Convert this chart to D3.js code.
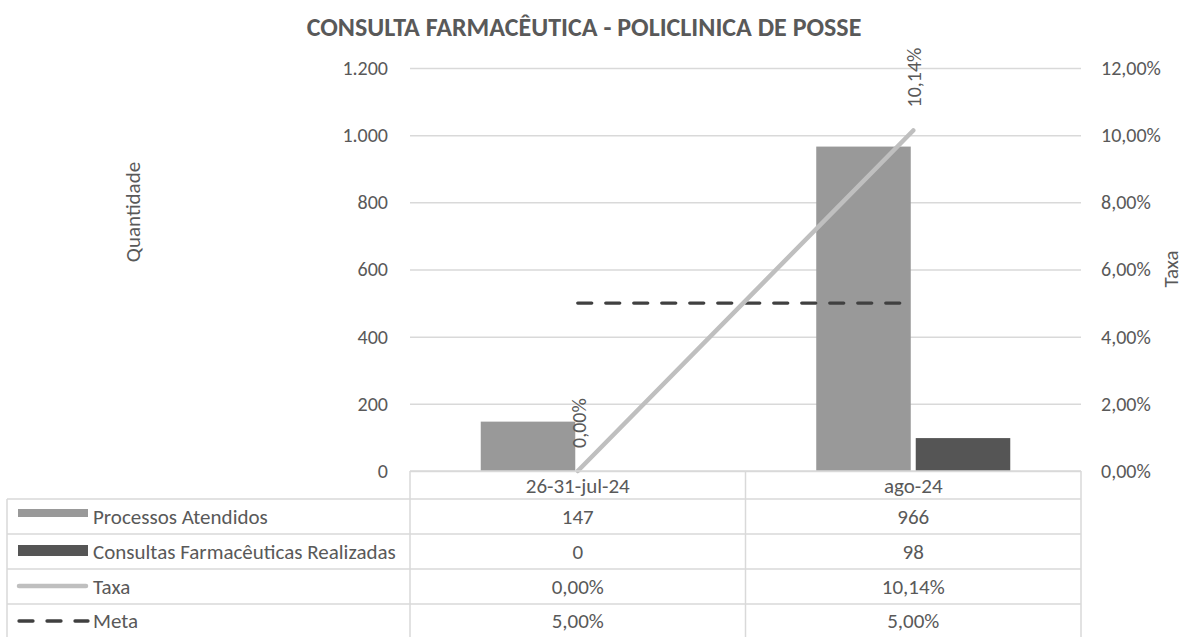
<!DOCTYPE html>
<html>
<head>
<meta charset="utf-8">
<script src="https://cdn.jsdelivr.net/npm/d3@7"></script>
<style>
  body { margin: 0; background: #fff; }
  text { font-family: Carlito, Lato, sans-serif; fill: #595959; }
</style>
</head>
<body>
<svg id="chart" width="1187" height="637"></svg>
<script>
// chart data
const categories = ["26-31-jul-24", "ago-24"];
const processos = [147, 966];
const consultas = [0, 98];
const taxa = [0, 10.14];
const meta = [5, 5];
const leftTicks = [0, 200, 400, 600, 800, 1000, 1200];
const rightTicks = [0, 2, 4, 6, 8, 10, 12];
const seriesNames = ["Processos Atendidos", "Consultas Farmacêuticas Realizadas", "Taxa", "Meta"];

const ptBR = d3.formatLocale({ decimal: ",", thousands: ".", grouping: [3], currency: ["R$", ""] });
const fmtInt = ptBR.format(",");
const fmtPct = (v) => ptBR.format(".2f")(v) + "%";

let svg = d3.select("#chart");

let plotLeft = 410, plotRight = 1081, plotTop = 68, plotBottom = 471;

let x = d3.scaleBand().domain(categories).range([plotLeft, plotRight]);
let xInner = d3.scaleBand().domain(["p", "c"]).range([0, x.bandwidth()])
  .paddingInner(0.05).paddingOuter(0.711);
let yLeft = d3.scaleLinear().domain([0, 1200]).range([plotBottom, plotTop]);
let yRight = d3.scaleLinear().domain([0, 12]).range([plotBottom, plotTop]);

// title
svg.append("text")
  .attr("x", 584).attr("y", 36)
  .attr("text-anchor", "middle")
  .style("font-weight", "bold").style("font-size", "26px")
  .text("CONSULTA FARMACÊUTICA - POLICLINICA DE POSSE");

// gridlines + left axis
let leftAxis = svg.append("g")
  .attr("transform", "translate(" + plotLeft + ",0)")
  .call(d3.axisLeft(yLeft).tickValues(leftTicks).tickFormat(fmtInt)
    .tickSize(-(plotRight - plotLeft)).tickPadding(22));
leftAxis.select(".domain").remove();
leftAxis.selectAll("line").attr("stroke", "#d9d9d9").attr("stroke-width", 1.5);
leftAxis.selectAll("text").style("font-size", "20px").attr("fill", "#595959");

let rightAxis = svg.append("g")
  .attr("transform", "translate(" + plotRight + ",0)")
  .call(d3.axisRight(yRight).tickValues(rightTicks).tickFormat(fmtPct)
    .tickSize(0).tickPadding(20));
rightAxis.select(".domain").remove();
rightAxis.selectAll("text").style("font-size", "20px").attr("fill", "#595959");

// axis titles
svg.append("text")
  .attr("transform", "translate(140,212) rotate(-90)")
  .attr("text-anchor", "middle").style("font-size", "21px")
  .text("Quantidade");
svg.append("text")
  .attr("transform", "translate(1178,269) rotate(-90)")
  .attr("text-anchor", "middle").style("font-size", "21px")
  .text("Taxa");

// bars
let groups = svg.append("g").selectAll("g")
  .data(categories)
  .enter()
  .append("g")
  .attr("transform", (c) => "translate(" + x(c) + ",0)");

groups.append("rect")
  .attr("x", xInner("p"))
  .attr("width", xInner.bandwidth())
  .attr("y", (c, i) => yLeft(processos[i]))
  .attr("height", (c, i) => plotBottom - yLeft(processos[i]))
  .attr("fill", "#999999");

groups.append("rect")
  .attr("x", xInner("c"))
  .attr("width", xInner.bandwidth())
  .attr("y", (c, i) => yLeft(consultas[i]))
  .attr("height", (c, i) => plotBottom - yLeft(consultas[i]))
  .attr("fill", "#555555");

let cx = (c) => x(c) + x.bandwidth() / 2;

// meta line
svg.append("path")
  .datum(categories)
  .attr("d", d3.line().x((c) => cx(c)).y((c, i) => yRight(meta[i])))
  .attr("fill", "none")
  .attr("stroke", "#404040")
  .attr("stroke-width", 3.3)
  .attr("stroke-linecap", "round")
  .attr("stroke-dasharray", "14,14");

// taxa line
svg.append("path")
  .datum(categories)
  .attr("d", d3.line().x((c) => cx(c)).y((c, i) => yRight(taxa[i])))
  .attr("fill", "none")
  .attr("stroke", "#bfbfbf")
  .attr("stroke-width", 4.5)
  .attr("stroke-linecap", "round");

// taxa labels
svg.append("g").selectAll("text")
  .data(categories)
  .enter()
  .append("text")
  .attr("transform", (c, i) => "translate(" + (cx(c) + 8) + "," + (yRight(taxa[i]) - 23) + ") rotate(-90)")
  .style("font-size", "20px")
  .attr("fill", "#404040")
  .text((c, i) => fmtPct(taxa[i]));

// data table
let rowEdges = [499, 534, 569, 604, 638];
let colEdges = [plotLeft, x("ago-24"), plotRight];
let tableLeft = 7;
let grid = svg.append("g").attr("stroke", "#d9d9d9").attr("stroke-width", 1.5);

grid.append("line").attr("x1", plotLeft).attr("x2", plotRight).attr("y1", plotBottom).attr("y2", plotBottom);
rowEdges.forEach((ry) => {
  grid.append("line").attr("x1", tableLeft).attr("x2", plotRight).attr("y1", ry).attr("y2", ry);
});
colEdges.forEach((cxp) => {
  grid.append("line").attr("x1", cxp).attr("x2", cxp).attr("y1", plotBottom).attr("y2", 638);
});
grid.append("line").attr("x1", tableLeft).attr("x2", tableLeft).attr("y1", 499).attr("y2", 638);

// header labels
svg.append("g").selectAll("text")
  .data(categories)
  .enter()
  .append("text")
  .attr("x", (c) => cx(c))
  .attr("y", 486)
  .attr("dy", "0.35em")
  .attr("text-anchor", "middle")
  .style("font-size", "21px")
  .text((c) => c);

let tableRows = [
  processos.map(fmtInt),
  consultas.map(fmtInt),
  taxa.map(fmtPct),
  meta.map(fmtPct)
];

let rowMid = (i) => (rowEdges[i] + rowEdges[i + 1]) / 2;

tableRows.forEach((vals, r) => {
  svg.append("g").selectAll("text")
    .data(categories)
    .enter()
    .append("text")
    .attr("x", (c) => cx(c))
    .attr("y", rowMid(r))
    .attr("dy", "0.35em")
    .attr("text-anchor", "middle")
    .style("font-size", "21px")
    .text((c, i) => vals[i]);

  svg.append("text")
    .attr("x", 93)
    .attr("y", rowMid(r))
    .attr("dy", "0.35em")
    .style("font-size", "21px")
    .text(seriesNames[r]);
});

// legend keys
svg.append("rect").attr("x", 18).attr("y", 509).attr("width", 70).attr("height", 8).attr("fill", "#999999");
svg.append("rect").attr("x", 18).attr("y", 545).attr("width", 70).attr("height", 11).attr("fill", "#555555");
svg.append("line").attr("x1", 19).attr("x2", 86).attr("y1", 586).attr("y2", 586)
  .attr("stroke", "#bfbfbf").attr("stroke-width", 4.5).attr("stroke-linecap", "round");
svg.append("line").attr("x1", 19).attr("x2", 88).attr("y1", 621).attr("y2", 621)
  .attr("stroke", "#404040").attr("stroke-width", 3.3).attr("stroke-linecap", "round")
  .attr("stroke-dasharray", "14,14");
</script>
</body>
</html>
